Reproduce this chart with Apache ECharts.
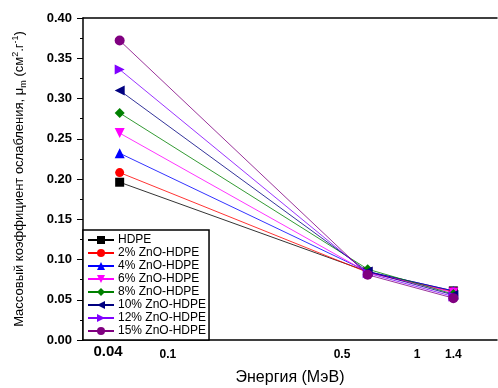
<!DOCTYPE html>
<html>
<head>
<meta charset="utf-8">
<script src="https://cdn.jsdelivr.net/npm/echarts@6/dist/echarts.min.js"></script>
<style>html,body{margin:0;padding:0;background:#fff}#c{width:498px;height:388px}</style>
</head>
<body>
<div id="c"></div>
<script>
const energies = [0.064, 0.634, 1.4];
const seriesNames = ['HDPE','2% ZnO-HDPE','4% ZnO-HDPE','6% ZnO-HDPE','8% ZnO-HDPE','10% ZnO-HDPE','12% ZnO-HDPE','15% ZnO-HDPE'];
const hdpe   = [0.196, 0.085, 0.061];
const zno2   = [0.208, 0.084, 0.060];
const zno4   = [0.232, 0.085, 0.061];
const zno6   = [0.257, 0.084, 0.059];
const zno8   = [0.282, 0.088, 0.057];
const zno10  = [0.310, 0.085, 0.056];
const zno12  = [0.336, 0.083, 0.054];
const zno15  = [0.372, 0.081, 0.052];
const seriesValues = [hdpe, zno2, zno4, zno6, zno8, zno10, zno12, zno15];
// x tick labels and where they sit on the axis
const xTickLabels = ['0.04','0.1','0.5','1','1.4'];
const xTickPositions = [0.0575, 0.1, 0.5, 1, 1.4];
const yTicks = [0, 0.05, 0.10, 0.15, 0.20, 0.25, 0.30, 0.35, 0.40];

const colors = ['#000000','#ff0000','#0000ff','#ff00ff','#008000','#000080','#8000ff','#800080'];
const symbols = ['rect','circle','triangle','path://M0,0 L10,0 L5,9 Z','diamond','path://M9,0 L9,10 L0,5 Z','path://M0,0 L0,10 L9,5 Z','circle'];
const sizes = [9,9,10,10,10,10,10,10];

const chart = echarts.init(document.getElementById('c'), null, {renderer:'canvas'});
const series = seriesNames.map((n,i)=>({
  name:n, type:'line', xAxisIndex:0, yAxisIndex:0,
  data: energies.map((e,j)=>[e, seriesValues[i][j]]),
  symbol: symbols[i], symbolSize: sizes[i],
  lineStyle:{color:colors[i], width:0.8},
  itemStyle:{color:colors[i]},
  z: 2 + i
}));

chart.setOption({
  animation:false,
  backgroundColor:'#fff',
  textStyle:{fontFamily:'Liberation Sans, Arial, sans-serif'},
  grid:{left:83, right:1, top:18, bottom:48, containLabel:false, outerBoundsMode:'none'},
  xAxis:[{
    type:'log', min:0.0456, max:2.096,
    axisLine:{show:true, onZero:false, lineStyle:{color:'#000', width:1.5}},
    axisTick:{show:false},
    splitLine:{show:false},
    minorTick:{show:false},
    axisLabel:{
      customValues: xTickPositions,
      margin:7,
      color:'#000',
      formatter:function(v){
        let best=0, bd=1e9;
        xTickPositions.forEach((p,i)=>{const d=Math.abs(Math.log(p)-Math.log(v)); if(d<bd){bd=d;best=i;}});
        return best===0 ? '{big|'+xTickLabels[best]+'}' : '{n|'+xTickLabels[best]+'}';
      },
      rich:{
        big:{fontSize:15, lineHeight:10, fontWeight:'bold', color:'#000', fontFamily:'Liberation Sans, Arial'},
        n:{fontSize:12, lineHeight:15, fontWeight:'bold', color:'#000', fontFamily:'Liberation Sans, Arial'}
      }
    },
    name:'Энергия (МэВ)', nameLocation:'middle', nameGap:30,
    nameTextStyle:{fontSize:16, color:'#000', fontFamily:'Liberation Sans, Arial'}
  },{
    type:'value', position:'top', min:0, max:1,
    axisLine:{show:true, onZero:false, lineStyle:{color:'#000', width:1.5}},
    axisTick:{show:false}, axisLabel:{show:false}, splitLine:{show:false}
  }],
  yAxis:{
    type:'value', min:0, max:0.4, interval:0.05,
    axisLine:{show:true, lineStyle:{color:'#000', width:1.5}},
    axisTick:{show:true, inside:false, length:6, lineStyle:{color:'#000', width:1}},
    minorTick:{show:true, splitNumber:2, length:3, lineStyle:{color:'#000', width:1}},
    splitLine:{show:false},
    axisLabel:{
      customValues: yTicks,
      margin:11, color:'#000', fontWeight:'bold', fontSize:13,
      fontFamily:'Liberation Sans, Arial',
      formatter:v=>v.toFixed(2)
    },
    name:'Массовый коэффициент ослабления, μ{sub|m} (см{sup|2}.г{sup|-1})',
    nameLocation:'middle', nameGap:55, nameRotate:90,
    nameTextStyle:{
      fontSize:13, color:'#000', fontFamily:'Liberation Sans, Arial', lineHeight:17,
      rich:{
        sub:{fontSize:9, verticalAlign:'bottom', lineHeight:17, color:'#000', fontFamily:'Liberation Sans, Arial'},
        sup:{fontSize:9, verticalAlign:'top', lineHeight:17, color:'#000', fontFamily:'Liberation Sans, Arial'}
      }
    }
  },
  legend:{
    orient:'vertical', left:83, top:230,
    data:seriesNames,
    itemWidth:26, itemHeight:10, itemGap:1,
    padding:[4,3,3,4],
    borderColor:'#000', borderWidth:1.5, backgroundColor:'#fff',
    textStyle:{fontSize:12, lineHeight:12, color:'#000', fontFamily:'Liberation Sans, Arial', padding:[0,0,0,-1]},
    z:10
  },
  series:series
});
</script>
</body>
</html>
